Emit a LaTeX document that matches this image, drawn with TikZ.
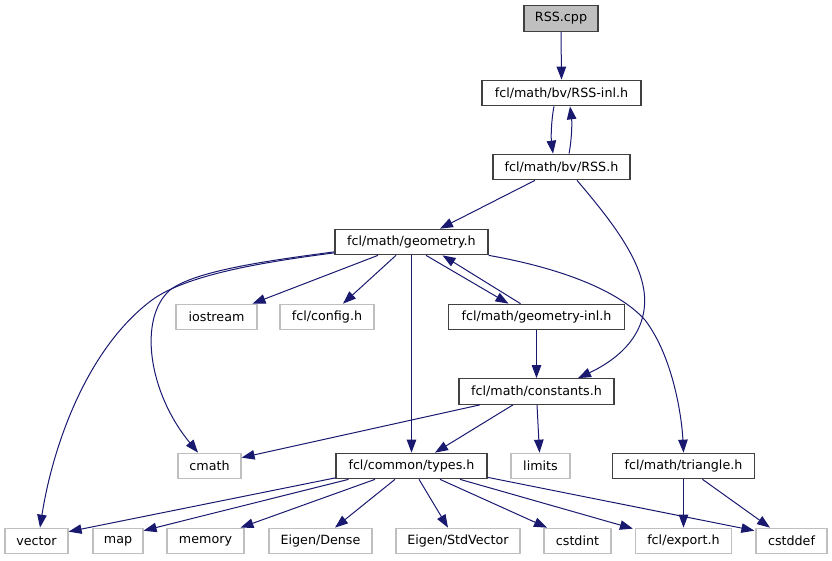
\documentclass[tikz,border=0pt]{standalone}
\usepackage{fontspec}
\setmainfont{DejaVu Sans}
\usetikzlibrary{arrows.meta,calc}
\definecolor{edgeblue}{HTML}{191970}
\definecolor{darkbd}{HTML}{404040}
\definecolor{lightbd}{HTML}{BFBFBF}
\tikzset{
  box/.style={draw=darkbd, line width=1.2pt, fill=white, inner sep=0pt, minimum height=25.5pt, font=\fontsize{12.7}{15}\selectfont},
  sysbox/.style={box, draw=lightbd},
  rootbox/.style={box, fill=lightbd},
  dep/.style={draw=edgeblue, line width=1pt, -{Triangle[length=13pt,width=9.5pt]}}
}
\begin{document}
\begin{tikzpicture}[x=1pt,y=-1pt]
\useasboundingbox (0,0) rectangle (832,560);
% nodes
\node[rootbox, minimum width=74pt] (cpp) at (561,18.5) {RSS.cpp};
\node[box, minimum width=159pt] (rssinl) at (561.5,93) {fcl/math/bv/RSS-inl.h};
\node[box, minimum width=137pt] (rssh) at (561.5,167) {fcl/math/bv/RSS.h};
\node[box, minimum width=153pt] (geom) at (411.5,242) {fcl/math/geometry.h};
\node[sysbox, minimum width=81pt] (iostream) at (216.5,317) {iostream};
\node[sysbox, minimum width=94pt] (config) at (327,317) {fcl/config.h};
\node[box, minimum width=176pt] (geominl) at (536.5,317) {fcl/math/geometry-inl.h};
\node[box, minimum width=155pt] (const) at (536.5,391.5) {fcl/math/constants.h};
\node[sysbox, minimum width=63pt] (cmath) at (209.5,466) {cmath};
\node[box, minimum width=151pt] (types) at (411.5,466) {fcl/common/types.h};
\node[sysbox, minimum width=59pt] (limits) at (540.5,466) {limits};
\node[box, minimum width=142pt] (tri) at (683.5,466) {fcl/math/triangle.h};
\node[sysbox, minimum width=63pt] (vector) at (36.5,541) {vector};
\node[sysbox, minimum width=50pt] (map) at (118,541) {map};
\node[sysbox, minimum width=77pt] (memory) at (205.5,541) {memory};
\node[sysbox, minimum width=103pt] (dense) at (320.5,541) {Eigen/Dense};
\node[sysbox, minimum width=124pt] (stdvec) at (458,541) {Eigen/StdVector};
\node[sysbox, minimum width=67pt] (cstdint) at (577.5,541) {cstdint};
\node[sysbox, minimum width=96pt] (export) at (683.5,541) {fcl/export.h};
\node[sysbox, minimum width=71pt] (cstddef) at (791.5,541) {cstddef};
% edges
\draw[dep] (cpp.south) -- (rssinl.north);
\draw[dep] ($(rssinl.south)+(-7.5,0)$) .. controls (551,122) and (551,138) .. ($(rssh.north)+(-8.5,0)$);
\draw[dep] ($(rssh.north)+(7.5,0)$) .. controls (572,138) and (572,122) .. ($(rssinl.south)+(8.5,0)$);
\draw[dep] ($(rssh.south)+(-26.5,0)$) -- ($(geom.north)+(28.5,0)$);
\draw[dep] ($(rssh.south)+(15.5,0)$) .. controls (615,225) and (650,270) .. (644,310) .. controls (639,345) and (608,364) .. ($(const.north)+(41.5,0)$);
\draw[dep] ($(geom.south)+(-33.5,0)$) -- ($(iostream.north)+(36,0)$);
\draw[dep] ($(geom.south)+(-15.5,0)$) -- ($(config.north)+(16,0)$);
\draw[dep] ($(geom.south)+(14.5,0)$) -- ($(geominl.north)+(-28,0)$);
\draw[dep] ($(geominl.north)+(-16,0)$) -- ($(geom.south)+(31,0)$);
\draw[dep] (geom.south) -- (types.north);
\draw[dep] ($(geom.south west)+(0,-3.5)$) .. controls (265,261) and (195,271) .. (170,290) .. controls (138,318) and (148,392) .. ($(cmath.north)+(-11.5,0)$);
\draw[dep] ($(geom.south west)+(0,-2.5)$) .. controls (255,263) and (185,276) .. (152,300) .. controls (85,350) and (52,450) .. ($(vector.north)+(3.5,0)$);
\draw[dep] (geom.south east) .. controls (560,268) and (618,290) .. (645,320) .. controls (674,358) and (682,420) .. (tri.north);
\draw[dep] (geominl.south) -- (const.north);
\draw[dep] ($(const.south)+(-56.5,0)$) -- ($(cmath.north east)+(0,5)$);
\draw[dep] ($(const.south)+(-23.5,0)$) -- ($(types.north)+(23.5,0)$);
\draw[dep] ($(const.south)+(0.5,0)$) -- ($(limits.north)+(-1,0)$);
\draw[dep] ($(types.south west)+(0,-1.5)$) -- ($(vector.north east)+(0,4)$);
\draw[dep] ($(types.south)+(-63,0)$) -- ($(map.north east)+(0,3)$);
\draw[dep] ($(types.south)+(-36.5,0)$) -- ($(memory.north)+(35,0)$);
\draw[dep] ($(types.south)+(-16.5,0)$) -- ($(dense.north)+(14.5,0)$);
\draw[dep] ($(types.south)+(7.5,0)$) -- ($(stdvec.north)+(-10,0)$);
\draw[dep] ($(types.south)+(28.5,0)$) -- ($(cstdint.north)+(-30.5,0)$);
\draw[dep] ($(types.south)+(48.5,0)$) -- ($(export.north west)+(-2,1)$);
\draw[dep] ($(types.south east)+(0,-2)$) -- ($(cstddef.north west)+(-1,3)$);
\draw[dep] (tri.south) -- (export.north);
\draw[dep] ($(tri.south)+(19,0)$) -- ($(cstddef.north)+(-21.5,0)$);
\end{tikzpicture}
\end{document}
